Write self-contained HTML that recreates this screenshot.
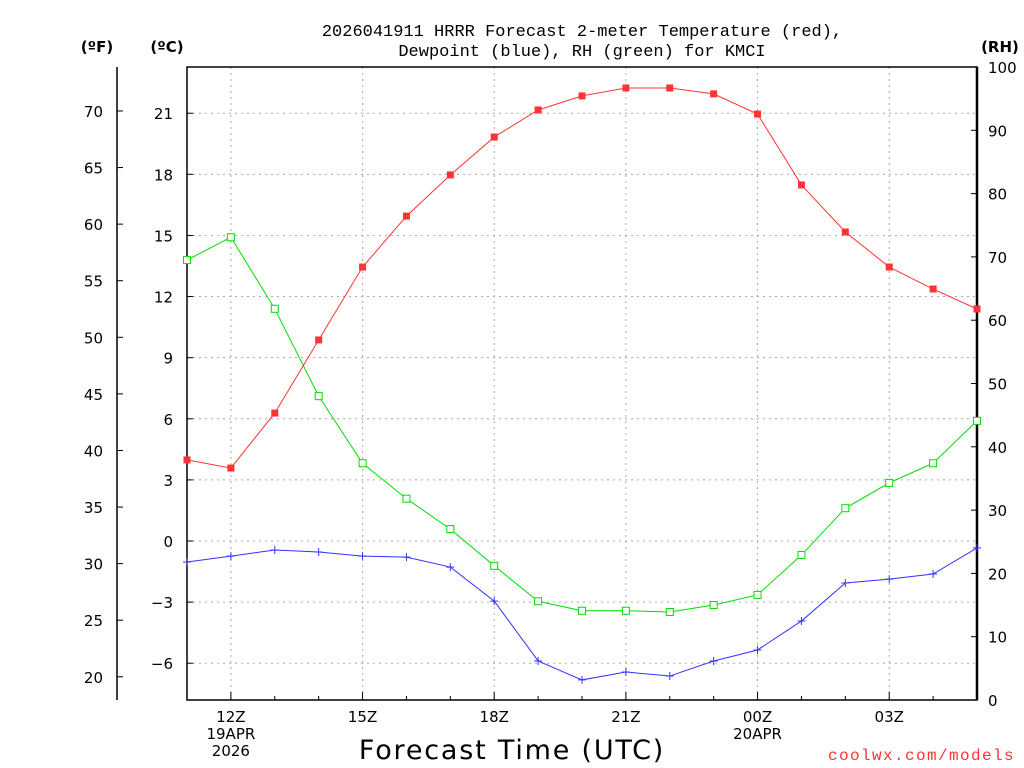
<!DOCTYPE html>
<html><head><meta charset="utf-8"><style>
html,body{margin:0;padding:0;background:#fff;}
svg{display:block;font-family:"DejaVu Sans","Liberation Sans",sans-serif;}
</style></head><body>
<svg id="c" width="1024" height="768" viewBox="0 0 1024 768">
<text x="582" y="36" text-anchor="middle" font-size="17" font-family="Liberation Mono, monospace">2026041911 HRRR Forecast 2-meter Temperature (red),</text>
<text x="582" y="56" text-anchor="middle" font-size="17" font-family="Liberation Mono, monospace">Dewpoint (blue), RH (green) for KMCI</text>
<text x="97" y="52" text-anchor="middle" font-size="15" font-weight="bold">(ºF)</text>
<text x="167" y="52" text-anchor="middle" font-size="15" font-weight="bold">(ºC)</text>
<text x="1000" y="52" text-anchor="middle" font-size="15" font-weight="bold">(RH)</text>
<text x="512" y="759" text-anchor="middle" font-size="27" letter-spacing="1.8">Forecast Time (UTC)</text>
<text x="1015" y="760" text-anchor="end" font-size="16" letter-spacing="1.4" fill="#ff3333" font-family="Liberation Mono, monospace">coolwx.com/models</text>
<g id="grid"></g><g id="axes"></g><g id="series"></g>
</svg>
<script>
const hours = ["11Z","12Z","13Z","14Z","15Z","16Z","17Z","18Z","19Z","20Z","21Z","22Z","23Z","00Z","01Z","02Z","03Z","04Z","05Z"];
const tempC = [3.98,3.58,6.28,9.87,13.45,15.95,17.97,19.83,21.16,21.85,22.24,22.24,21.95,20.96,17.48,15.17,13.45,12.37,11.39];
const dewC = [-1.03,-0.74,-0.44,-0.54,-0.74,-0.79,-1.28,-2.95,-5.89,-6.82,-6.43,-6.63,-5.89,-5.35,-3.93,-2.06,-1.87,-1.62,-0.34];
const rh = [69.5,73.1,61.8,48.0,37.4,31.8,27.0,21.2,15.6,14.1,14.1,13.9,15.0,16.6,22.9,30.3,34.3,37.4,44.1];
const cTicks = [-6,-3,0,3,6,9,12,15,18,21];
const fTicks = [20,25,30,35,40,45,50,55,60,65,70];
const rhTicks = [0,10,20,30,40,50,60,70,80,90,100];
const xLabels = [{i:1,t:["12Z","19APR","2026"]},{i:4,t:["15Z"]},{i:7,t:["18Z"]},{i:10,t:["21Z"]},{i:13,t:["00Z","20APR"]},{i:16,t:["03Z"]}];

const NS="http://www.w3.org/2000/svg";
const L=187,R=977,T=67,B=700;
const x=i=>L+i*(R-L)/(hours.length-1);
const yC=c=>541-c*20.37;
const yF=f=>yC((f-32)*5/9);
const yR=v=>B-v*(B-T)/100;
function mk(tag,a,p){const e=document.createElementNS(NS,tag);for(const k in a)e.setAttribute(k,a[k]);p.appendChild(e);return e;}
const grid=document.getElementById('grid'),axes=document.getElementById('axes'),ser=document.getElementById('series');
cTicks.forEach(c=>{
  const g=mk('line',{x1:L,x2:R,y1:yC(c),y2:yC(c),stroke:'#aaa','stroke-dasharray':'2,4'},grid);
  
  
  const t=mk('text',{x:173,y:yC(c)+6,'text-anchor':'end','font-size':15},axes);t.textContent=(c<0?'\u2212'+(-c):c);
  
  
  mk('line',{x1:L,x2:L+6,y1:yC(c),y2:yC(c),stroke:'#000'},axes);
});
xLabels.forEach(o=>{
  const g=mk('line',{x1:x(o.i),x2:x(o.i),y1:T,y2:B,stroke:'#aaa','stroke-dasharray':'2,4'},grid);
  
  
  o.t.forEach((s,k)=>{const t=mk('text',{x:x(o.i),y:722+k*17,'text-anchor':'middle','font-size':15},axes);t.textContent=s;
    
    });
});
hours.forEach((h,i)=>mk('line',{x1:x(i),x2:x(i),y1:B,y2:B-(i%3==1?8:4),stroke:'#000'},axes));
fTicks.forEach(f=>{
  const t=mk('text',{x:103,y:yF(f)+6,'text-anchor':'end','font-size':15},axes);t.textContent=f;
  
  
  mk('line',{x1:117,x2:123,y1:yF(f),y2:yF(f),stroke:'#000'},axes);
});
rhTicks.forEach(v=>{
  const t=mk('text',{x:988,y:yR(v)+6,'font-size':15},axes);t.textContent=v;
  
  
  mk('line',{x1:R-6,x2:R,y1:yR(v),y2:yR(v),stroke:'#000'},axes);
});
const fr=mk('rect',{x:L,y:T,width:R-L,height:B-T,fill:'none',stroke:'#000','stroke-width':1.5},axes);


mk('line',{x1:R,x2:R,y1:T,y2:B,stroke:'#000','stroke-width':2.5},axes);
mk('line',{x1:117,x2:117,y1:T,y2:B,stroke:'#000','stroke-width':1.5},axes);

function line(vals,yf,col,name,marker){
  const p=mk('polyline',{points:vals.map((v,i)=>x(i)+','+yf(v)).join(' '),fill:'none',stroke:col,'stroke-width':1},ser);
  
  
  vals.forEach((v,i)=>{
    let m;
    if(marker=='fill') m=mk('rect',{x:x(i)-3.5,y:yf(v)-3.5,width:7,height:7,fill:col},ser);
    else if(marker=='open') m=mk('rect',{x:x(i)-3.5,y:yf(v)-3.5,width:7,height:7,fill:'#fff',stroke:col},ser);
    else m=mk('path',{d:`M${x(i)-4},${yf(v)}h8M${x(i)},${yf(v)-4}v8`,stroke:col},ser);
    
    
  });
}
line(rh,yR,'#00dd00','rh','open');
line(dewC,yC,'#3333ff','dewpoint','plus');
line(tempC,yC,'#ff3333','temperature','fill');
</script>
</body></html>
